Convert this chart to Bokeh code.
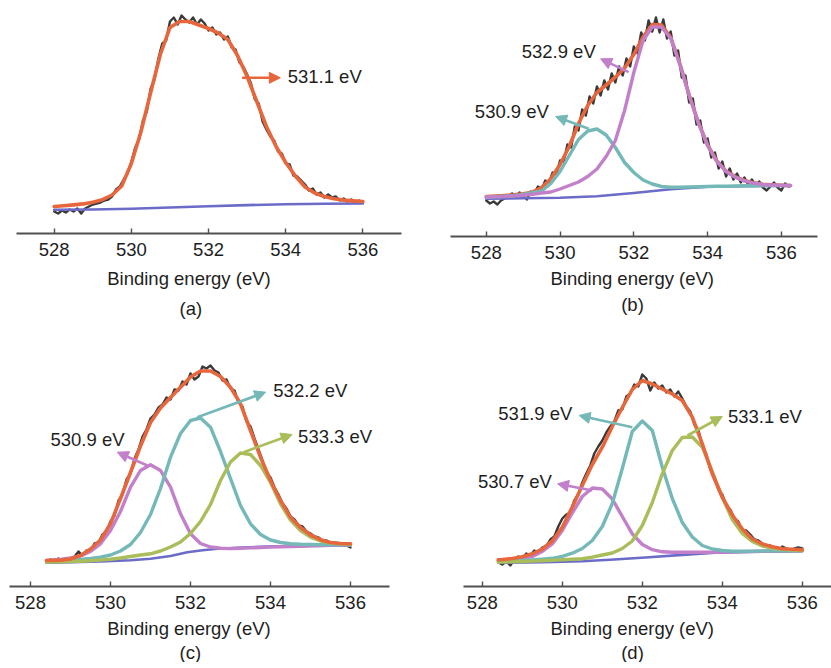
import numpy as np
from bokeh.plotting import figure
from bokeh.models import Range1d, FixedTicker, Label, Arrow, NormalHead, Title
from bokeh.layouts import column, row
from bokeh.embed import file_html
from bokeh.resources import INLINE

# ---------------- data (heights above the axis) -------------
TICKS = [528, 530, 532, 534, 536]
TICK_LABELS = ["528", "530", "532", "534", "536"]
XLABEL = "Binding energy (eV)"

# panel (a): raw from 528.0 step 0.1 ; fit from 528.0 step 0.25
raw_a = [22, 20, 23, 21, 24, 22, 25, 20, 25, 27,
         29, 30, 31, 33, 34, 37, 44, 47, 54, 60,
         72, 86, 94, 113, 122, 145, 154, 175, 190, 193,
         212, 216, 209, 218, 214, 211, 216, 209, 214, 210,
         203, 206, 199, 201, 194, 197, 186, 184, 171, 167,
         159, 150, 134, 130, 112, 104, 97, 93, 82, 80,
         70, 69, 58, 57, 53, 49, 43, 45, 39, 41,
         36, 39, 36, 37, 33, 35, 32, 34, 31, 33,
         31]
fit_a = [27, 27.8, 28.6, 29.6, 31.3, 33.8, 38.5, 47.5, 70, 102, 141, 179,
         206, 212, 212, 208.5, 205, 200.5, 194, 178, 157, 132, 107, 87,
         71, 57.5, 46.5, 40.5, 37, 34.7, 33.4, 32.6, 32]
base_a_x = [528, 529, 530, 531, 532, 533, 534, 535, 536]
base_a = [23.7, 24, 24.7, 26, 27.3, 28.4, 29.3, 29.8, 30]
peaks_a = ["531.1 eV"]

# panel (b): raw from 528.0 step 0.1 ; curves from 528.0 step 0.25
raw_b = [36, 33, 35, 32, 36, 38, 40, 43, 40, 44,
         41, 37, 45, 43, 50, 47, 56, 54, 64, 62,
         76, 75, 92, 89, 110, 106, 127, 121, 140, 133,
         150, 141, 156, 147, 163, 154, 170, 161, 178, 170,
         190, 183, 204, 196, 216, 205, 219, 204, 217, 198,
         205, 181, 186, 159, 161, 134, 138, 112, 116, 94,
         98, 79, 84, 68, 75, 60, 68, 57, 63, 54,
         59, 52, 57, 51, 55, 49, 46, 50, 54, 49,
         46, 53, 50]
fit_b = [40, 40.5, 41, 41.6, 42.8, 44.3, 49, 57.8, 72, 90, 113, 131,
         144, 151.5, 159.3, 168.5, 182, 199.5, 212, 211.5, 199, 172.5, 141.5, 114,
         91.5, 75.5, 65.5, 59.7, 56, 53.6, 52.3, 51.7, 51.3, 51]
teal_b = [39.3, 39.8, 40.3, 41, 42, 43.8, 45.5, 53, 65, 81, 97, 105.5,
          107.5, 101.5, 89, 74, 64, 56.5, 52.5, 50, 49.3, 49.3, 49.5, 49.7,
          50, 50.2, 50.3, 50.5, 50.7, 50.8, 50.9, 50.9, 51, 51]
purple_b = [39.3, 39.6, 40, 40.6, 41.3, 42.3, 43.5, 44.5, 47.5, 51, 54.5, 60,
            67.5, 80, 96, 126, 164, 196, 209.5, 209.5, 198, 172, 141, 113.5,
            91, 75, 65, 59.3, 55.7, 53.3, 52, 51.5, 51.1, 50.8]
base_b_x = [528, 529, 530, 531, 532, 533, 534, 535, 536.25]
base_b = [37.7, 38.2, 38.8, 40.3, 43.5, 47.3, 49.7, 50.4, 50.7]
peaks_b = ["532.9 eV", "530.9 eV"]

# panel (c): raw from 528.4 step 0.1 ; curves at 528.4 then 528.5 step 0.25
raw_c = [24, 27, 25, 28, 25, 28,
         26, 30, 35, 31, 36, 36, 43, 44, 52, 55,
         65, 71, 86, 92, 107, 113, 128, 137, 150, 157,
         168, 172, 179, 182, 189, 187, 197, 196, 205, 202,
         213, 207, 210, 220, 218, 221, 216, 214, 206, 207,
         198, 196, 184, 180, 165, 160, 148, 137, 126, 114,
         109, 99, 92, 83, 78, 70, 67, 61, 60, 55,
         53, 50, 49, 46, 46, 43, 44, 42, 43, 41,
         39]
fit_c = [26, 26.1, 26.4, 27.5, 31, 37.5, 46.5, 62.7, 88, 114, 140.5, 164, 178.5,
         189, 199.3, 209.5, 215.5, 215.5, 210, 199.3, 182.7, 156, 129.3, 106, 86,
         69.3, 59, 51.5, 46.8, 44, 43, 42.7]
purple_c = [26, 26.2, 27, 28.5, 30.5, 35, 42.7, 56, 75, 99.3, 116, 121.7, 116,
            99.3, 72.7, 52.7, 43, 39.5, 38.2, 37.9, 38.2, 38.6, 39, 39.4, 39.7,
            40, 40.3, 40.6, 40.9, 41.2, 41.5, 41.7]
teal_c = [25.3, 25.4, 25.8, 26.3, 27, 28, 29.3, 31.5, 35.5, 42, 54, 72, 98,
          129.3, 153, 166, 168.5, 159.3, 135, 108, 81, 62.7, 52, 46.5, 44,
          42.7, 42.2, 42, 41.9, 41.8, 41.7, 41.7]
olive_c = [24.3, 24.4, 24.6, 24.9, 25.3, 25.8, 26.5, 27.3, 28.5, 30, 31.5, 32.7, 35.5,
           39.5, 44.5, 53, 65, 82, 106, 124.5, 133.5, 132, 121, 104, 82.7,
           66.5, 56, 49.3, 45.5, 43.7, 42.8, 42]
base_c_x = [528.4, 529.0, 529.75, 530.5, 531.0, 531.5, 531.92, 532.3, 532.67, 533.3, 533.92, 535.0, 536.0]
base_c = [23.7, 24.2, 25, 26.3, 27.7, 30.5, 34.3, 36.3, 37.7, 39, 40, 40.6, 41]
peaks_c = ["530.9 eV", "532.2 eV", "533.3 eV"]

# panel (d)
raw_d = [24, 22, 25, 21, 27, 30,
         28, 33, 31, 36, 34, 39, 40, 47, 50, 60,
         68, 72, 74, 86, 92, 104, 113, 121, 133, 140,
         146, 154, 160, 165, 176, 177, 190, 193, 202, 200,
         212, 208, 196, 204, 198, 201, 194, 197, 190, 195,
         188, 180, 175, 162, 157, 141, 132, 117, 110, 97,
         92, 81, 77, 68, 65, 56, 56, 52, 47, 46,
         43, 40, 41, 37, 35, 40, 38, 35, 38, 39,
         38]
fit_d = [26.7, 27, 28, 29.8, 32.7, 37.5, 45.5, 59.3, 79.5, 101, 122, 139.3, 160,
         179, 197, 206, 202.5, 197.5, 192.5, 186, 169.3, 142.7, 112.7, 89.3, 71.5,
         57.5, 47.5, 42.5, 39.8, 37.7, 37.2, 36.8]
purple_d = [26, 26.3, 27.2, 28.3, 30, 35, 42.5, 56, 73.5, 90, 98.5, 97.5, 87.5,
            70, 52.7, 42, 36.8, 34.7, 34.2, 34.2, 34.3, 34.3, 34.3, 34.5, 34.7,
            34.9, 35.1, 35.3, 35.5, 35.7, 35.8, 36]
teal_d = [25.3, 25.4, 25.7, 26.1, 26.6, 27.3, 28.2, 30.2, 33.3, 38, 46, 60, 83,
          118, 155, 165.5, 156, 119.3, 88, 64, 49.5, 41, 37.5, 36, 35.3,
          35.3, 35.4, 35.5, 35.6, 35.7, 35.8, 36]
olive_d = [24.3, 24.4, 24.7, 25, 25.4, 25.8, 26.3, 26.8, 27.2, 27.7, 29.3, 31.5, 33.5,
           38, 45.5, 61, 84, 112.7, 136, 149, 149.5, 139.3, 115, 89, 67,
           53, 45, 40.5, 38.3, 37.2, 36.5, 36]
base_d_x = [528.4, 529.5, 530.5, 531.3, 532.17, 533.0, 533.83, 535.0, 536.0]
base_d = [23.7, 24.3, 25.3, 27, 29.3, 31.6, 33.7, 34.8, 35.3]
peaks_d = ["531.9 eV", "530.7 eV", "533.1 eV"]

CAPTIONS = ["(a)", "(b)", "(c)", "(d)"]

# ---------------- styling -------------
FONT = "Liberation Sans"
FS = "18.5px"
C_TXT = "#1e1e1e"
C_RAW = "#3a3a3a"
C_FIT = "#e8663c"
C_BASE = "#6b6bc8"
C_PUR = "#c27fca"
C_TEAL = "#74b8b8"
C_OLIVE = "#a9bd5a"


def xs_step(start, step, ys):
    return [round(start + step * i, 3) for i in range(len(ys))]


def xs_cd(ys):
    return [528.4] + [round(528.5 + 0.25 * i, 3) for i in range(len(ys) - 1)]


def panel(x0, x1, ytop, fw, fh, bl, br, bb):
    p = figure(x_range=Range1d(x0, x1), y_range=Range1d(0, ytop),
               frame_width=fw, frame_height=fh,
               min_border_left=bl, min_border_right=br, min_border_top=0,
               min_border_bottom=bb, output_backend="svg", toolbar_location=None,
               y_axis_location=None)
    p.xgrid.visible = False
    p.ygrid.visible = False
    p.outline_line_color = None
    p.background_fill_color = "white"
    p.border_fill_color = "white"
    ax = p.xaxis[0]
    ax.ticker = FixedTicker(ticks=TICKS)
    ax.major_label_overrides = {t: l for t, l in zip(TICKS, TICK_LABELS)}
    ax.axis_line_color = "#505050"
    ax.axis_line_width = 1.8
    ax.major_tick_line_color = "#505050"
    ax.major_tick_line_width = 1.4
    ax.major_tick_in = 5
    ax.major_tick_out = 0
    ax.minor_tick_in = 0
    ax.minor_tick_out = 0
    ax.major_label_standoff = 9
    ax.major_label_text_font = FONT
    ax.major_label_text_font_size = FS
    ax.major_label_text_color = C_TXT
    return p


def line(p, x, y, color, w=3.4):
    p.line(x, y, line_color=color, line_width=w, line_join="round", line_cap="round")


def note(p, text, x, y, ax0, ay0, ax1, ay1, color):
    p.add_layout(Label(x=x, y=y, text=text, text_font=FONT, text_font_size=FS,
                       text_color=C_TXT, text_baseline="middle", text_align="left"))
    p.add_layout(Arrow(end=NormalHead(size=11, fill_color=color, line_color=color, line_width=1),
                       x_start=ax0, y_start=ay0, x_end=ax1, y_end=ay1,
                       line_color=color, line_width=2.6))


def captions(p, off_lab, off_cap, cap, gap1, gap2):
    p.add_layout(Title(text=XLABEL, align="left", offset=off_lab, standoff=gap1,
                       vertical_align="bottom",
                       text_font=FONT, text_font_size=FS, text_font_style="normal",
                       text_color=C_TXT), "below")
    p.add_layout(Title(text=cap, align="left", offset=off_cap, standoff=gap2,
                       vertical_align="top",
                       text_font=FONT, text_font_size=FS, text_font_style="normal",
                       text_color=C_TXT), "below")


# ---- (a)
pa = panel(527.023, 537.0, 233, 385, 233, 16, 14, 101)
line(pa, xs_step(528.0, 0.1, raw_a), raw_a, C_RAW, 2.4)
line(pa, base_a_x, base_a, C_BASE, 2.6)
line(pa, xs_step(528.0, 0.25, fit_a), fit_a, C_FIT, 3.6)
note(pa, peaks_a[0], 534.05, 157, 532.87, 155.7, 533.86, 155.7, C_FIT)
captions(pa, 90.7, 163, CAPTIONS[0], 15, 3)

# ---- (b)
pb = panel(527.03, 536.98, 236, 367, 236, 35, 14, 98)
line(pb, xs_step(528.0, 0.1, raw_b), raw_b, C_RAW, 2.4)
line(pb, base_b_x, base_b, C_BASE, 2.6)
line(pb, xs_step(528.0, 0.25, fit_b), fit_b, C_FIT, 3.6)
line(pb, xs_step(528.0, 0.25, teal_b), teal_b, C_TEAL)
line(pb, xs_step(528.0, 0.25, purple_b), purple_b, C_PUR)
note(pb, peaks_b[0], 528.96, 185, 531.86, 164.3, 531.1, 177.7, C_PUR)
note(pb, peaks_b[1], 527.69, 125, 530.78, 107.7, 529.88, 120, C_TEAL)
captions(pb, 100, 170.7, CAPTIONS[1], 9, 1)

# ---- (c)
pc = panel(527.475, 536.975, 252, 380, 252, 9, 26, 10)
line(pc, xs_step(528.4, 0.1, raw_c), raw_c, C_RAW, 2.4)
line(pc, base_c_x, base_c, C_BASE, 2.6)
line(pc, xs_cd(purple_c), purple_c, C_PUR)
line(pc, xs_cd(teal_c), teal_c, C_TEAL)
line(pc, xs_cd(olive_c), olive_c, C_OLIVE)
line(pc, xs_cd(fit_c), fit_c, C_FIT, 3.6)
note(pc, peaks_c[0], 528.5, 147, 530.92, 121, 530.17, 134.3, C_PUR)
note(pc, peaks_c[1], 534.07, 196, 532.17, 169.3, 533.88, 194.3, C_TEAL)
note(pc, peaks_c[2], 534.69, 150, 533.33, 134.3, 534.54, 152, C_OLIVE)
captions(pc, 97.7, 170, CAPTIONS[2], 9, -4)

# ---- (d)
pd_ = panel(527.53, 536.73, 252, 368, 252, 48, 0, 10)
line(pd_, xs_step(528.4, 0.1, raw_d), raw_d, C_RAW, 2.4)
line(pd_, base_d_x, base_d, C_BASE, 2.6)
line(pd_, xs_cd(purple_d), purple_d, C_PUR)
line(pd_, xs_cd(teal_d), teal_d, C_TEAL)
line(pd_, xs_cd(olive_d), olive_d, C_OLIVE)
line(pd_, xs_cd(fit_d), fit_d, C_FIT, 3.6)
note(pd_, peaks_d[0], 528.4, 172.7, 531.75, 159.3, 530.42, 171, C_TEAL)
note(pd_, peaks_d[1], 527.89, 105, 530.75, 96, 529.88, 102.7, C_PUR)
note(pd_, peaks_d[2], 534.14, 170, 533.13, 151, 534.0, 170, C_OLIVE)
captions(pd_, 87, 157.7, CAPTIONS[3], 9, -4)

layout = column(row(pa, pb), row(pc, pd_))
open("out.html", "w").write(file_html(layout, INLINE))
